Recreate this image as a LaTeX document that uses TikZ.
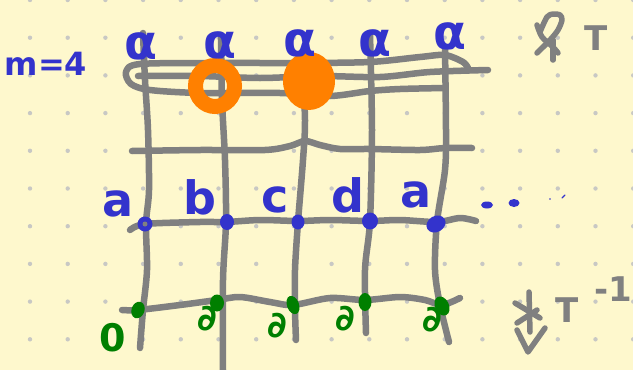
\documentclass[tikz,border=0pt]{standalone}
\usepackage{fontspec}
\setmainfont{DejaVu Sans}
\definecolor{bg}{HTML}{FEF8CD}
\definecolor{griddot}{HTML}{C8C8C4}
\definecolor{lgray}{HTML}{808080}
\definecolor{pblue}{HTML}{3333CC}
\definecolor{pgreen}{HTML}{007F00}
\definecolor{porange}{HTML}{FF8000}
\tikzset{
  gl/.style={draw=lgray, line width=6.5pt, line cap=round, line join=round},
  gsym/.style={draw=lgray, line width=5.5pt, line cap=round, line join=round},
  bluetxt/.style={text=pblue, inner sep=0pt, font=\bfseries\fontsize{46}{46}\selectfont},
  alph/.style={text=pblue, inner sep=0pt, font=\bfseries\fontsize{48}{48}\selectfont},
  greentxt/.style={text=pgreen, inner sep=0pt, font=\bfseries\fontsize{36}{36}\selectfont},
  graytxt/.style={text=lgray, inner sep=0pt, font=\bfseries\fontsize{34}{34}\selectfont},
  bdot/.style={fill=pblue},
  gdot/.style={fill=pgreen},
}
\begin{document}
\begin{tikzpicture}[x=1pt,y=-1pt]
\useasboundingbox (0,0) rectangle (633,370);
\fill[bg] (0,0) rectangle (633,370);
% dot grid
\foreach \i in {0,...,16}{
  \foreach \j in {0,...,9}{
    \fill[griddot] ({30+37.7*\i},{37.7*\j}) circle (2.2pt);
  }
}
% vertical lines
\draw[gl] plot[smooth] coordinates {(143,33) (145,80) (148,130) (149,190) (146,224) (147,270) (143,310) (140,348)};
\draw[gl] plot[smooth] coordinates {(221,35) (222,100) (225,160) (226,222) (223,280) (223,370)};
\draw[gl] plot[smooth] coordinates {(302,60) (305,120) (303,160) (298,222) (295,270) (295,310) (296,340)};
\draw[gl] plot[smooth] coordinates {(370,35) (372,130) (370,221) (365,270) (366,333)};
\draw[gl] plot[smooth] coordinates {(445,48) (446,130) (445,170) (437,222) (435,270) (440,305) (449,342)};
% top band
\draw[gl] plot[smooth] coordinates {(445,88) (400,89) (370,91) (330,96) (280,93) (200,93) (150,90) (131,84) (126,72) (140,64) (220,63) (300,63) (370,62) (420,57) (445,55) (463,62) (468,68)};
\draw[gl] plot[smooth] coordinates {(138,76) (200,76) (260,78) (320,76) (380,77) (430,72) (488,70)};
% row at y~150
\draw[gl] plot[smooth] coordinates {(132,151) (200,150) (265,150) (290,146) (305,141) (320,145) (340,149) (370,149) (420,150) (445,148) (472,148)};
% row a
\draw[gl] plot[smooth] coordinates {(130,230) (145,224) (200,222) (226,222) (260,220) (298,221) (330,220) (370,221) (400,220) (437,222) (460,218) (476,221)};
% bottom row
\draw[gl] plot[smooth] coordinates {(122,310) (138,310) (180,305) (217,300) (240,297) (270,302) (293,305) (330,298) (365,300) (400,297) (425,300) (442,305) (460,298)};
% orange
\draw[porange, line width=15pt] (215,86) ellipse [x radius=19.5, y radius=20.5];
\fill[porange] (309,81) ellipse [x radius=26, y radius=29];
% blue intersection dots
\fill[bdot] (145,224) circle (7.5pt);
\fill[lgray] (145,224) circle (2.5pt);
\fill[bdot] (227,222) ellipse [x radius=7, y radius=8];
\fill[bdot] (298,222) ellipse [x radius=6.5, y radius=7.5];
\fill[bdot] (370,221) ellipse [x radius=8, y radius=8.5];
\fill[bdot,rotate around={30:(436,224)}] (436,224) ellipse [x radius=10, y radius=8];
% ellipsis
\fill[bdot] (487,205) ellipse [x radius=6, y radius=3.5];
\fill[bdot] (514,203) ellipse [x radius=5.5, y radius=4];
\fill[bdot] (550,199) circle (0.8pt);
\draw[pblue, line width=1.2pt, line cap=round] (562,198) -- (565,195);
% green dots
\fill[gdot,rotate around={-20:(138,310)}] (138,310) ellipse [x radius=6.5, y radius=8.5];
\fill[gdot] (217,303) ellipse [x radius=7, y radius=8.5];
\fill[gdot,rotate around={20:(293,305)}] (293,305) ellipse [x radius=6, y radius=9.5];
\fill[gdot] (365,302) ellipse [x radius=6.5, y radius=9];
\fill[gdot,rotate around={25:(442,306)}] (442,306) ellipse [x radius=7, y radius=10];
% labels
\node[bluetxt, font=\bfseries\fontsize{32}{32}\selectfont] (m) at (46,64) {m=4};
\node[alph] (al1) at (141,46) {α};
\node[alph] (al2) at (220,45) {α};
\node[alph] (al3) at (300,43) {α};
\node[alph] (al4) at (375,43) {α};
\node[alph] (al5) at (450,36) {α};
\node[bluetxt] (la) at (118,204) {a};
\node[bluetxt] (lb) at (200,197) {b};
\node[bluetxt] (lc) at (275,200) {c};
\node[bluetxt] (ld) at (348,195) {d};
\node[bluetxt] (le) at (416,195) {a};
\node[greentxt, font=\bfseries\fontsize{38}{38}\selectfont] (g1) at (113,338) {0};
\node[greentxt] (g2) at (207,319) {∂};
\node[greentxt] (g3) at (277,326) {∂};
\node[greentxt] (g4) at (345,319) {∂};
\node[greentxt] (g5) at (432,320) {∂};
% top-right symbol
\draw[gsym] plot[smooth] coordinates {(540,32) (547,17) (553,14) (560,15) (562,20) (558,30) (550,40) (537,53)};
\draw[gsym] plot[smooth] coordinates {(537,25) (542,37) (553,47) (558,53)};
\draw[gsym] (553,40) -- (553,60);
\node[graytxt] (t1) at (596,38) {T};
% bottom-right symbol
\draw[gsym] (529,292) -- (530,332);
\draw[gsym] (515,303) -- (540,318);
\draw[gsym] (517,323) -- (537,310);
\draw[gsym] (517,330) -- (528,352) -- (545,328);
\node[graytxt] (t2) at (567,310) {T};
\node[graytxt] (t3) at (613,289) {-1};
\end{tikzpicture}
\end{document}
